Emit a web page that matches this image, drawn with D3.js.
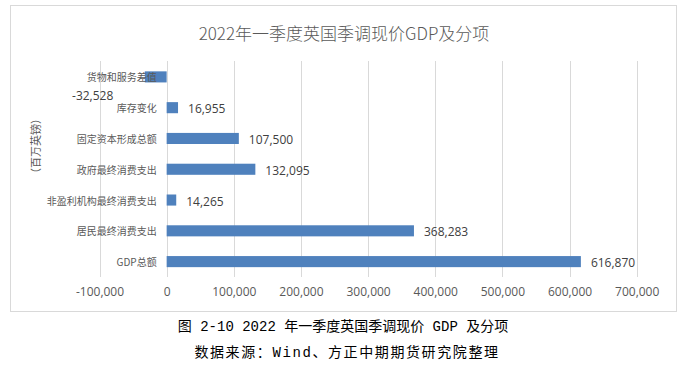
<!DOCTYPE html>
<html>
<head>
<meta charset="utf-8">
<script src="https://cdn.jsdelivr.net/npm/d3@7/dist/d3.min.js"></script>
<style>
  body { margin: 0; background: #fff; }
  svg { display: block; }
</style>
</head>
<body>
<div id="chart"></div>
<script>
const categories = ['货物和服务差值', '库存变化', '固定资本形成总额', '政府最终消费支出',
  '非盈利机构最终消费支出', '居民最终消费支出', 'GDP总额'];
const values = [-32528, 16955, 107500, 132095, 14265, 368283, 616870];
const xTicks = [-100000, 0, 100000, 200000, 300000, 400000, 500000, 600000, 700000];
const chartTitle = '2022年一季度英国季调现价GDP及分项';
const yTitle = '（百万英镑）';
const caption = '图 2-10 2022 年一季度英国季调现价 GDP 及分项';
const source = '数据来源：Wind、方正中期期货研究院整理';

const W = 687, H = 365;
const cjk = '"Noto Sans CJK SC", "Noto Sans", sans-serif';
const num = '"Open Sans", "Noto Sans", sans-serif';
const mono = '"Liberation Mono", "Noto Sans CJK SC", monospace';

// plain hyphen for negatives, like the original
const fmt = d => d3.format(',')(d).replace('\u2212', '-');

const svg = d3.select('#chart').append('svg')
  .attr('width', W)
  .attr('height', H);

// chart frame
svg.append('rect')
  .attr('x', 10.5).attr('y', 5.5)
  .attr('width', 666).attr('height', 306)
  .attr('fill', '#fff')
  .attr('stroke', '#d9d9d9');

svg.append('text')
  .attr('x', 344).attr('y', 32.5)
  .attr('text-anchor', 'middle')
  .attr('dominant-baseline', 'central')
  .style('font-family', cjk)
  .style('font-size', '17px')
  .style('font-weight', 300)
  .style('fill', '#595959')
  .text(chartTitle);

const x = d3.scaleLinear()
  .domain([-100000, 700000])
  .range([99.5, 636.7]);

const y = d3.scaleBand()
  .domain(categories)
  .range([61.5, 277])
  .paddingInner(0.64)
  .paddingOuter(0.32);

// grid lines
svg.append('g')
  .selectAll('line')
  .data(xTicks)
  .enter()
  .append('line')
  .attr('x1', d => Math.round(x(d)) + 0.5)
  .attr('x2', d => Math.round(x(d)) + 0.5)
  .attr('y1', 61)
  .attr('y2', 277)
  .attr('stroke', '#d9d9d9');

// x axis labels
const xAxis = d3.axisBottom(x)
  .tickValues(xTicks)
  .tickFormat(fmt)
  .tickSize(0)
  .tickPadding(10);
const gx = svg.append('g')
  .attr('transform', 'translate(0,277)')
  .call(xAxis);
gx.select('.domain').remove();
gx.selectAll('text')
  .style('font-family', num)
  .style('font-size', '12px')
  .style('fill', '#595959');

// bars
svg.selectAll('.bar')
  .data(values)
  .enter()
  .append('rect')
  .attr('class', 'bar')
  .attr('x', d => x(Math.min(0, d)))
  .attr('y', (d, i) => y(categories[i]))
  .attr('width', d => Math.abs(x(d) - x(0)))
  .attr('height', y.bandwidth())
  .attr('fill', '#4f81bd');

// category labels
svg.selectAll('.cat')
  .data(categories)
  .enter()
  .append('text')
  .attr('class', 'cat')
  .attr('x', x(0) - 10)
  .attr('y', d => y(d) + y.bandwidth() / 2)
  .attr('text-anchor', 'end')
  .attr('dominant-baseline', 'central')
  .style('font-family', cjk)
  .style('font-size', '10px')
  .style('fill', '#595959')
  .text(d => d);

// value labels
svg.selectAll('.val')
  .data(values)
  .enter()
  .append('text')
  .attr('class', 'val')
  .attr('x', d => d < 0 ? x(d) - 31.5 : x(d) + 10)
  .attr('y', (d, i) => y(categories[i]) + y.bandwidth() / 2 + (d < 0 ? 19 : 1))
  .attr('text-anchor', d => d < 0 ? 'end' : 'start')
  .attr('dominant-baseline', 'central')
  .style('font-family', num)
  .style('font-size', '12px')
  .style('fill', '#404040')
  .text(fmt);

// y title
svg.append('text')
  .attr('transform', 'translate(35,146) rotate(-90)')
  .attr('text-anchor', 'middle')
  .attr('dominant-baseline', 'central')
  .style('font-family', cjk)
  .style('font-size', '11px')
  .style('fill', '#595959')
  .text(yTitle);

// captions below the chart
svg.append('text')
  .attr('x', 343).attr('y', 327)
  .attr('text-anchor', 'middle')
  .attr('dominant-baseline', 'central')
  .style('font-family', mono)
  .style('font-size', '14px')
  .style('fill', '#000')
  .text(caption);

svg.append('text')
  .attr('x', 347).attr('y', 353)
  .attr('text-anchor', 'middle')
  .attr('dominant-baseline', 'central')
  .style('font-family', mono)
  .style('font-size', '14px')
  .style('letter-spacing', '1.6px')
  .style('fill', '#000')
  .text(source);
</script>
</body>
</html>
